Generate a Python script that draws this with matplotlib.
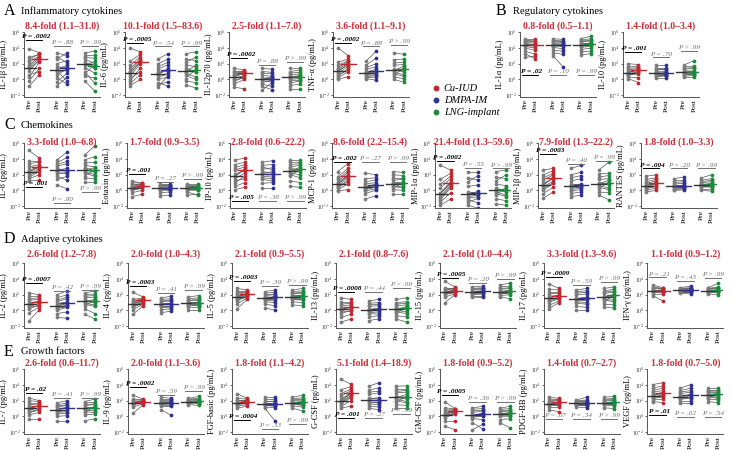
import numpy as np
import matplotlib
matplotlib.use("Agg")
import matplotlib.pyplot as plt
from matplotlib.lines import Line2D
from matplotlib.ticker import NullLocator

plt.rcParams["font.family"] = ["Liberation Serif", "DejaVu Serif"]
plt.rcParams["mathtext.fontset"] = "stix"

# y labels of the panels, in drawing order
panels = ["IL-1β", "IL-6", "IL-12p70", "TNF-α", "IL-1α", "IL-10",
          "IL-8", "Eotaxin", "IP-10", "MCP-1", "MIP-1α", "MIP-1β", "RANTES",
          "IL-2", "IL-4", "IL-5", "IL-13", "IL-15", "IL-17", "IFN-γ",
          "IL-7", "IL-9", "FGF-basic", "G-CSF", "GM-CSF", "PDGF-BB", "VEGF"]

folds = ["8.4-fold (1.1–31.0)", "10.1-fold (1.5–83.6)", "2.5-fold (1.1–7.0)", "3.6-fold (1.1–9.1)",
         "0.8-fold (0.5–1.1)", "1.4-fold (1.0–3.4)",
         "3.3-fold (1.0–6.8)", "1.7-fold (0.9–3.5)", "2.8-fold (0.6–22.2)", "8.6-fold (2.2–15.4)",
         "21.4-fold (1.3–59.6)", "7.9-fold (1.3–22.2)", "1.8-fold (1.0–3.3)",
         "2.6-fold (1.2–7.8)", "2.0-fold (1.0–4.3)", "2.1-fold (0.9–5.5)", "2.1-fold (0.8–7.6)",
         "2.1-fold (1.0–4.4)", "3.3-fold (1.3–9.6)", "1.1-fold (0.9–1.2)",
         "2.6-fold (0.6–11.7)", "2.0-fold (1.1–3.6)", "1.8-fold (1.1–4.2)", "5.1-fold (1.4–18.9)",
         "1.8-fold (0.9–5.2)", "1.4-fold (0.7–2.7)", "1.8-fold (0.7–5.0)"]

p_cu = [".0002", ".0005", ".0002", ".0002", ".02", ".001",
        ".001", ".001", ".005", ".002", ".0002", ".0003", ".004",
        ".0007", ".0003", ".0003", ".0008", ".0005", ".0009", ".21",
        ".02", ".0002", ".0004", ".001", ".0005", ".07", ".01"]
p_dmpa = [".88", ".54", ".88", ".88", ".10", ".70",
          ".80", ".27", ".38", ".27", ".55", ".40", ".20",
          ".42", ".41", ".39", ".44", ".20", ".59", ".43",
          ".41", ".59", ".33", ".27", ".36", ".34", ".02"]
p_lng = ["> .99", "> .99", "> .99", "> .99", ".99", "> .99",
         "> .99", "> .99", "> .99", "> .99", "> .99", ".99", "> .99",
         "> .99", "> .99", "> .99", "> .99", "> .99", "> .99", "> .99",
         "> .99", "> .99", "> .99", "> .99", "> .99", "> .99", ".54"]

# log10(pg/mL): "pre values | post values", one pair per woman
cu_data = [
    "1.6 0.3 3.9 2.2 -0.85 1.1 2.8 1.8 0.6 2.5 1.4 -0.2 | 2.7 2.2 3.4 3.0 0.6 2.5 3.2 2.9 1.0 3.3 2.4 1.4",
    "0.7 -0.2 4.0 1.4 -0.8 0.4 2.3 0.9 0.1 1.8 1.1 -0.5 | 2.3 1.5 3.5 2.6 0.0 2.0 3.2 2.2 1.0 2.9 2.5 0.6",
    "0.3 -0.3 1.4 0.7 -1.0 0.1 1.1 0.5 -0.6 0.9 0.4 -0.1 | 0.8 0.4 1.2 1.0 -1.2 0.5 1.1 0.7 0.0 1.0 0.9 0.2",
    "1.0 0.4 4.0 1.5 0.0 0.8 2.2 1.1 0.2 1.8 1.3 0.6 | 2.0 1.4 3.0 2.3 0.35 1.7 2.6 1.9 1.0 2.4 2.1 1.2",
    "4.5 3.6 5.2 4.8 2.8 4.2 5.0 4.6 3.3 4.9 4.4 4.0 | 4.3 3.2 5.2 4.6 3.0 4.0 4.9 4.4 2.6 4.8 4.5 3.7",
    "0.9 0.5 2.0 1.2 0.1 0.7 1.6 1.0 0.3 1.4 0.8 0.6 | 1.2 0.9 1.9 1.4 -0.4 1.0 1.7 1.1 0.2 1.5 1.3 0.7",
    "2.4 1.7 5.1 3.0 1.2 2.1 3.8 2.6 1.5 3.4 2.3 1.9 | 3.0 2.4 4.1 3.3 1.3 2.8 3.8 3.0 2.0 3.6 3.1 2.6",
    "0.4 0.0 1.2 0.7 -0.8 0.2 1.0 0.5 -0.3 0.8 0.3 0.1 | 0.6 0.3 0.9 0.8 -0.5 0.5 0.9 0.7 0.0 0.8 0.6 0.4",
    "1.9 1.0 3.9 2.6 0.1 1.5 3.3 2.1 0.5 2.9 1.7 1.2 | 2.6 1.8 4.1 3.0 0.4 2.2 3.6 2.5 1.0 3.3 2.8 1.5",
    "0.7 0.3 2.4 1.1 -0.1 0.5 1.7 0.8 0.1 1.4 0.9 0.4 | 1.9 1.3 3.4 2.3 0.1 1.6 2.8 1.8 0.8 2.5 2.0 1.1",
    "-0.5 -1.2 3.2 0.3 -1.9 -0.8 1.4 -0.3 -1.5 0.8 -0.4 -1.0 | 1.0 0.3 2.6 1.5 -1.1 0.7 2.2 1.1 -0.3 1.8 0.9 0.5",
    "0.7 0.0 2.6 1.3 -1.0 0.4 2.0 0.9 -0.4 1.6 0.6 0.2 | 1.6 0.9 2.8 2.0 -0.2 1.2 2.5 1.5 0.4 2.2 1.7 1.0",
    "0.55 0.2 1.8 0.9 -0.2 0.4 1.4 0.6 0.0 1.1 0.7 0.3 | 0.9 0.6 2.0 1.2 0.0 0.8 1.6 0.9 0.3 1.4 1.0 0.5",
    "0.8 0.2 2.2 1.3 -1.3 0.5 1.8 1.0 -0.3 1.5 0.9 0.4 | 1.1 0.7 2.0 1.4 0.1 0.9 1.8 1.05 0.4 1.6 1.2 0.6",
    "0.8 0.4 2.3 1.1 -0.5 0.6 1.4 0.9 0.1 1.2 0.85 0.5 | 1.3 1.0 1.7 1.4 0.6 1.2 1.6 1.3 0.8 1.5 1.35 1.1",
    "1.7 1.2 2.8 2.0 0.2 1.5 2.5 1.8 0.8 2.2 1.6 1.3 | 2.1 1.8 2.6 2.3 1.4 2.0 2.5 2.1 1.6 2.4 2.2 1.9",
    "0.2 -0.4 1.6 0.6 -1.5 0.0 1.1 0.3 -0.9 0.8 0.1 -0.2 | 0.4 0.0 1.4 0.7 -1.1 0.2 1.1 0.35 -0.5 0.9 0.5 -0.1",
    "2.3 2.0 3.7 2.6 1.0 2.2 2.9 2.4 1.7 2.7 2.35 2.1 | 2.5 2.3 3.0 2.7 2.0 2.4 2.9 2.5 2.1 2.8 2.6 2.35",
    "1.6 1.0 3.4 2.1 0.2 1.3 2.7 1.8 0.6 2.4 1.5 1.2 | 1.9 1.5 2.8 2.2 1.0 1.7 2.6 1.9 1.2 2.4 2.0 1.6",
    "2.55 2.3 3.25 2.8 1.9 2.45 3.0 2.6 2.1 2.9 2.5 2.4 | 2.5 2.3 2.9 2.7 1.2 2.4 2.8 2.5 2.1 2.75 2.6 2.35",
    "1.05 0.6 2.35 1.5 -0.3 0.8 2.0 1.2 0.2 1.7 1.0 0.5 | 1.3 0.9 2.0 1.6 -0.3 1.1 1.9 1.35 0.5 1.7 1.4 0.8",
    "1.75 1.5 2.7 2.0 0.4 1.6 2.2 1.8 1.2 2.1 1.7 1.55 | 1.9 1.75 2.2 2.0 1.5 1.85 2.15 1.9 1.6 2.05 1.95 1.8",
    "1.75 1.5 2.9 2.0 1.05 1.6 2.3 1.8 1.3 2.1 1.7 1.55 | 1.9 1.7 2.3 2.05 1.3 1.8 2.2 1.9 1.5 2.1 1.95 1.75",
    "2.0 1.6 4.75 2.6 1.05 1.8 3.4 2.2 1.3 2.9 1.9 1.7 | 2.9 2.4 4.1 3.3 1.3 2.7 3.8 3.0 2.0 3.5 3.1 2.6",
    "0.25 -0.2 1.85 0.6 -1.25 0.0 1.1 0.35 -0.6 0.8 0.2 0.1 | 0.6 0.4 1.0 0.8 -1.7 0.5 0.95 0.65 -0.6 0.9 0.7 0.3",
    "1.65 1.4 2.45 1.9 0.85 1.55 2.2 1.7 1.2 2.0 1.6 1.5 | 1.75 1.5 2.3 2.0 0.6 1.65 2.2 1.8 1.2 2.1 1.85 1.4",
    "2.7 2.3 4.05 3.1 1.9 2.5 3.6 2.8 2.1 3.3 2.6 2.4 | 2.9 2.5 4.3 3.3 1.75 2.7 3.9 3.0 2.2 3.6 3.1 2.6",
]
dmpa_data = [
    "1.3 0.2 3.4 2.0 -0.85 0.9 2.6 1.6 -0.3 2.9 1.1 0.5 | 1.8 -0.6 3.0 2.4 0.3 1.2 3.4 1.5 0.8 2.1 -0.2 1.4",
    "0.6 -0.4 2.6 1.3 -1.0 0.2 2.0 0.8 -0.7 1.6 0.9 0.0 | 1.4 -0.9 3.3 1.9 0.5 0.8 2.6 1.1 -0.3 2.2 1.2 0.3",
    "0.0 -0.6 1.4 0.5 -1.4 -0.2 1.0 0.2 -0.9 0.8 0.1 -0.4 | 0.2 -0.9 1.3 0.4 -0.4 -0.3 0.9 0.0 -1.3 0.7 0.3 -0.1",
    "0.85 0.3 2.3 1.3 0.1 0.6 1.8 1.0 0.2 1.5 0.9 0.5 | 1.1 0.5 3.6 1.6 -0.1 0.8 2.7 1.0 0.3 2.0 1.3 0.6",
    "4.5 3.7 5.2 4.8 3.0 4.3 5.0 4.6 3.4 4.9 4.4 4.1 | 4.4 3.6 5.1 4.7 1.6 4.2 4.9 4.5 3.2 4.8 4.3 3.9",
    "0.9 0.5 1.8 1.2 0.2 0.7 1.5 1.0 0.3 1.3 0.8 0.6 | 1.0 0.4 1.8 1.3 0.2 0.7 1.5 0.9 0.5 1.2 0.8 0.6",
    "2.6 1.8 3.9 3.1 0.7 2.3 3.5 2.8 1.4 3.3 2.5 2.1 | 2.8 1.3 4.9 3.4 0.2 2.1 4.2 2.5 1.8 3.7 2.6 2.3",
    "0.3 0.0 0.8 0.5 -0.7 0.2 0.7 0.4 -0.3 0.6 0.3 0.1 | 0.3 0.1 0.8 0.5 -0.6 0.2 0.6 0.4 -0.2 0.7 0.3 0.0",
    "2.2 1.4 3.6 2.7 0.3 1.8 3.2 2.4 0.9 3.0 2.1 1.6 | 2.4 1.2 3.8 2.9 0.3 1.7 3.3 2.2 1.0 2.6 2.0 1.5",
    "0.35 -0.1 2.2 0.8 -1.1 0.1 1.5 0.5 -0.4 1.1 0.4 0.2 | 0.7 0.2 2.0 1.0 -0.7 0.4 1.6 0.6 0.0 1.3 0.8 0.5",
    "-0.5 -1.2 2.4 0.5 -1.9 -0.8 1.6 -0.2 -1.5 1.1 -0.4 -1.0 | -0.1 -1.6 2.4 0.7 -2.3 -0.6 1.3 -0.4 -1.0 1.9 -0.3 -0.8",
    "0.6 -0.1 2.8 1.2 -0.8 0.3 2.0 0.8 -0.4 1.6 0.5 0.1 | 0.8 0.1 3.2 1.5 -0.6 0.4 2.3 0.7 -0.2 1.9 0.6 0.3",
    "0.55 0.3 1.5 0.8 0.0 0.4 1.2 0.6 0.1 1.0 0.5 0.35 | 0.6 0.3 1.7 0.9 0.05 0.4 1.3 0.55 0.2 1.1 0.7 0.4",
    "0.6 0.0 2.0 1.1 -0.9 0.3 1.6 0.8 -0.4 1.3 0.5 0.2 | 1.0 0.4 2.5 1.5 -1.0 0.7 2.0 1.1 -0.2 1.7 0.9 0.5",
    "0.8 0.4 1.6 1.1 -0.3 0.6 1.4 0.9 0.1 1.2 0.7 0.5 | 0.9 0.3 1.8 1.2 -0.1 0.6 1.5 0.8 0.2 1.3 0.85 0.5",
    "1.6 1.1 2.4 1.9 0.3 1.4 2.2 1.7 0.8 2.0 1.5 1.3 | 1.7 1.0 2.6 2.0 0.05 1.4 2.3 1.6 0.6 2.1 1.8 1.2",
    "0.1 -0.4 1.2 0.5 -1.3 -0.1 0.9 0.2 -0.8 0.7 0.0 -0.3 | 0.3 -0.5 1.4 0.6 -1.1 0.0 1.0 0.2 -0.7 0.8 0.1 -0.2",
    "2.3 2.0 3.0 2.6 1.7 2.2 2.8 2.4 1.9 2.7 2.35 2.1 | 2.4 2.1 3.1 2.7 1.7 2.3 2.9 2.45 1.9 2.8 2.5 2.2",
    "1.5 0.9 2.6 2.0 0.1 1.2 2.4 1.6 0.5 2.2 1.4 1.1 | 1.7 0.8 2.8 2.1 0.1 1.3 2.5 1.6 0.4 2.3 1.5 1.0",
    "2.55 2.4 2.9 2.7 2.2 2.5 2.8 2.6 2.3 2.75 2.55 2.45 | 2.6 2.4 3.1 2.75 2.1 2.5 2.9 2.55 2.3 2.8 2.65 2.45",
    "0.85 0.3 1.75 1.2 -0.55 0.6 1.5 1.0 0.0 1.3 0.8 0.5 | 1.1 0.4 2.0 1.4 -0.55 0.8 1.7 1.05 0.1 1.5 1.2 0.6",
    "1.75 1.5 2.45 2.0 0.85 1.6 2.2 1.8 1.3 2.1 1.7 1.55 | 1.8 1.5 2.3 2.0 0.15 1.65 2.2 1.75 1.3 2.1 1.7 1.6",
    "1.6 1.4 2.45 1.9 1.05 1.5 2.2 1.7 1.2 2.0 1.6 1.45 | 1.7 1.3 2.45 1.95 -0.55 1.5 2.2 1.6 1.1 2.0 1.65 1.4",
    "2.2 1.6 3.85 2.8 1.05 1.9 3.4 2.4 1.3 3.1 2.1 1.8 | 2.4 1.5 4.3 3.0 0.85 1.9 3.6 2.2 1.2 3.2 2.0 1.7",
    "0.15 -0.3 1.05 0.5 -1.7 0.0 0.9 0.3 -0.8 0.7 0.1 -0.1 | 0.35 -0.4 1.3 0.7 -1.0 0.1 1.0 0.3 -1.6 0.8 0.4 0.0",
    "1.65 1.5 2.1 1.85 1.2 1.6 2.0 1.7 1.4 1.9 1.65 1.55 | 1.7 1.5 2.45 1.9 1.1 1.6 2.1 1.65 1.35 2.0 1.75 1.55",
    "2.55 2.2 3.6 2.9 1.75 2.4 3.3 2.6 2.0 3.1 2.5 2.3 | 2.7 2.3 4.05 3.1 1.75 2.5 3.6 2.75 2.0 3.3 2.8 2.4",
]
lng_data = [
    "2.0 0.7 3.4 2.6 -0.2 1.5 3.0 2.2 1.0 2.8 1.8 0.4 | 1.4 1.9 3.6 2.0 -1.5 0.8 3.1 1.5 -0.5 2.7 2.3 0.2",
    "1.2 0.1 3.3 1.9 -0.7 0.8 2.6 1.4 -0.2 2.2 1.0 0.5 | 0.9 1.3 3.5 1.6 -1.1 0.3 2.4 1.0 -0.4 2.8 1.8 0.0",
    "0.2 -0.5 1.4 0.6 -1.2 0.0 1.0 0.4 -0.8 0.8 0.3 -0.2 | 0.4 -0.2 1.4 0.7 -1.2 0.1 1.2 0.3 -0.6 0.9 0.5 -0.1",
    "1.2 0.5 3.4 1.8 0.0 0.9 2.5 1.3 0.3 2.1 1.1 0.7 | 1.0 1.5 3.2 1.9 -0.35 0.6 2.6 1.2 0.1 2.2 1.7 0.4",
    "4.5 3.8 5.2 4.8 3.1 4.3 5.0 4.6 3.5 4.9 4.4 4.1 | 4.6 4.0 5.5 4.9 3.3 4.4 5.2 4.5 3.6 5.0 4.7 4.2",
    "1.0 0.6 1.8 1.3 0.3 0.8 1.6 1.1 0.4 1.4 0.9 0.7 | 1.1 0.7 2.4 1.4 0.3 0.8 1.7 1.0 0.5 1.5 0.9 0.6",
    "2.7 1.9 4.5 3.2 1.1 2.4 3.9 2.9 1.6 3.5 2.6 2.2 | 2.3 2.6 5.7 3.0 1.1 2.0 4.3 2.5 1.5 3.6 2.9 1.8",
    "0.35 0.0 0.8 0.5 -0.6 0.2 0.7 0.4 -0.2 0.6 0.3 0.1 | 0.4 0.1 0.8 0.5 -0.5 0.2 0.7 0.3 -0.6 0.6 0.35 0.0",
    "2.6 1.8 3.9 3.0 0.5 2.2 3.6 2.8 1.2 3.3 2.4 2.0 | 2.4 2.8 3.9 3.2 0.4 2.0 3.6 2.6 1.0 3.4 3.0 1.6",
    "0.85 0.3 2.4 1.3 -0.5 0.6 2.0 1.0 0.1 1.6 0.9 0.5 | 0.7 1.0 2.3 1.4 -0.5 0.4 1.9 0.8 0.0 1.6 1.1 0.3",
    "0.1 -0.6 2.4 0.8 -1.7 -0.2 1.7 0.3 -1.1 1.2 0.0 -0.4 | -0.2 0.4 2.6 0.6 -1.9 -0.6 1.5 -0.1 -1.3 2.0 0.2 -0.8",
    "0.9 0.2 2.6 1.4 -0.6 0.6 2.1 1.0 -0.2 1.7 0.8 0.4 | 0.7 1.1 3.6 1.5 -1.2 0.3 2.2 0.8 -0.3 1.9 1.3 0.1",
    "0.75 0.4 1.6 1.0 0.0 0.6 1.3 0.8 0.2 1.1 0.7 0.5 | 0.8 0.5 2.0 1.1 -0.1 0.6 1.5 0.75 0.2 1.3 0.9 0.4",
    "1.2 0.6 2.2 1.6 -0.5 0.9 2.0 1.3 0.2 1.8 1.1 0.8 | 1.0 1.3 2.5 1.7 -1.1 0.7 2.1 1.1 -0.4 1.9 1.4 0.5",
    "0.95 0.6 1.7 1.2 0.1 0.8 1.5 1.0 0.4 1.3 0.9 0.7 | 1.0 0.7 1.9 1.3 0.1 0.8 1.6 0.95 0.4 1.4 1.1 0.6",
    "1.8 1.4 2.6 2.1 0.7 1.6 2.4 1.9 1.1 2.2 1.7 1.5 | 1.9 1.3 2.8 2.2 0.6 1.6 2.5 1.8 1.0 2.3 2.0 1.5",
    "0.2 -0.3 1.4 0.6 -1.1 0.0 1.0 0.3 -0.7 0.8 0.1 -0.2 | 0.1 0.4 1.6 0.7 -1.5 -0.2 1.1 0.2 -0.8 0.9 0.5 -0.4",
    "2.4 2.1 3.25 2.7 1.7 2.3 3.0 2.5 1.9 2.8 2.4 2.2 | 2.5 2.3 3.5 2.8 1.5 2.4 3.1 2.5 2.0 2.9 2.6 2.2",
    "1.7 1.1 2.8 2.2 0.45 1.4 2.5 1.8 0.8 2.3 1.6 1.3 | 1.6 2.0 3.0 2.3 0.3 1.3 2.7 1.8 0.7 2.5 2.1 1.1",
    "2.5 2.35 2.9 2.7 2.1 2.45 2.8 2.55 2.25 2.75 2.5 2.4 | 2.55 2.4 3.45 2.8 2.0 2.5 3.0 2.6 2.3 2.9 2.65 2.45",
    "1.05 0.5 1.9 1.4 -0.55 0.8 1.7 1.1 0.2 1.5 1.0 0.6 | 1.0 1.3 2.2 1.5 -0.3 0.7 1.8 1.05 0.3 1.6 1.2 0.5",
    "1.9 1.75 2.3 2.05 1.5 1.85 2.2 1.95 1.65 2.1 1.9 1.8 | 1.9 1.8 2.55 2.1 1.4 1.85 2.3 1.95 1.6 2.2 2.0 1.75",
    "1.75 1.5 2.45 2.0 1.05 1.6 2.2 1.8 1.3 2.1 1.7 1.55 | 1.7 1.9 2.7 2.1 0.7 1.5 2.4 1.75 1.2 2.2 1.95 1.4",
    "2.45 1.8 3.85 3.0 1.05 2.2 3.5 2.6 1.5 3.2 2.4 2.0 | 2.2 2.6 3.9 3.1 1.05 1.9 3.5 2.35 1.4 3.3 2.8 1.7",
    "0.3 0.0 1.05 0.6 -0.8 0.2 0.9 0.4 -0.4 0.7 0.3 0.1 | 0.4 0.1 1.3 0.7 -1.5 0.25 1.0 0.35 -0.3 0.8 0.5 0.0",
    "1.75 1.55 2.45 2.0 1.1 1.65 2.2 1.8 1.4 2.1 1.7 1.6 | 1.8 1.6 2.55 2.05 1.0 1.7 2.3 1.75 1.35 2.15 1.9 1.5",
    "2.8 2.4 3.6 3.1 1.9 2.6 3.4 2.9 2.2 3.2 2.7 2.5 | 2.6 2.9 3.6 3.1 1.75 2.4 3.4 2.7 2.1 3.25 3.0 2.3",
]

# height (log10) of the P-value underline, per group
py_cu = [5.0, 4.7, 2.7, 4.7, 0.6, 3.5, 0.4, 2.1, -1.3, 3.6, 3.8, 4.6, 2.8,
         3.5, 3.1, 3.7, 2.4, 4.1, 4.3, 4.2, 3.0, 3.8, -0.5, -0.25, 2.75, -0.35, 0.2]
py_dmpa = [4.25, 4.2, 1.9, 4.2, 0.6, 2.8, -1.55, 1.1, -1.4, 3.6, 2.9, 3.4, 2.8,
           2.5, 2.2, 3.1, 2.4, 3.5, 3.2, 3.7, 2.3, 2.75, -1.55, -0.25, 1.8, -0.35, -0.05]
py_lng = [4.25, 4.2, 2.2, 4.4, 0.6, 3.6, -0.25, 1.4, -1.4, 3.6, 2.8, 3.8, 2.8,
          2.6, 2.6, 3.3, 2.85, 4.0, 3.6, 4.1, 2.3, 3.2, -0.95, 0.3, 1.9, -0.35, -0.05]

groups = ["Cu-IUD", "DMPA-IM", "LNG-implant"]
colors = ["#c1272d", "#2e3192", "#1b8a3a"]
fold_color = "#c8303a"
line_grey = "#555555"

W, H = 732, 450
AX_W, AX_H = 76, 65

# pixel layout: left spine x, top y, fold-label offset above top
panel_pos = [(24, 32), (125, 32), (229, 32), (333, 32), (520, 32), (623, 32)]
panel_pos += [(24 + i * 102.8, 143) for i in range(7)]
panel_pos += [(24 + i * 103.9, 263) for i in range(7)]
panel_pos += [(24 + i * 103.9, 369) for i in range(7)]
fold_off = [6] * 6 + [1] * 7 + [9] * 7 + [6] * 7

xpos = [(0.0, 1.0), (2.7, 3.7), (5.4, 6.4)]

fig = plt.figure(figsize=(W / 100, H / 100), dpi=100)


def parse(s):
    pre, post = s.split("|")
    return np.array(pre.split(), float), np.array(post.split(), float)


for i, name in enumerate(panels):
    x0, top = panel_pos[i]
    ax = fig.add_axes([x0 / W, 1 - (top + AX_H) / H, AX_W / W, AX_H / H])
    ax.set_yscale("log")
    ax.set_ylim(10 ** -2.25, 10 ** 6.05)
    ax.set_xlim(-0.5, 6.9)

    series = [cu_data[i], dmpa_data[i], lng_data[i]]
    pvals = [p_cu[i], p_dmpa[i], p_lng[i]]
    pys = [py_cu[i], py_dmpa[i], py_lng[i]]
    for g in range(3):
        pre, post = parse(series[g])
        pre, post = 10 ** pre, 10 ** post
        xa, xb = xpos[g]
        for a, b in zip(pre, post):
            ax.plot([xa, xb], [a, b], color=line_grey, lw=0.5, zorder=1)
        ax.plot([xa] * len(pre), pre, "o", ms=2.7, color="#7b7b7b", mew=0, zorder=2)
        ax.plot([xb] * len(post), post, "o", ms=2.7, color=colors[g], mew=0, zorder=2)
        ax.plot([xa - 0.7, xa + 0.7], [np.median(pre)] * 2, color="#333333", lw=1.0, zorder=3)
        ax.plot([xb - 0.7, xb + 0.7], [np.median(post)] * 2, color=colors[g], lw=1.0, zorder=3)

        # P-value with underline
        p = pvals[g]
        sig = g == 0 and not p.startswith(">") and float(p) < 0.05
        label = "P " + p if p.startswith(">") else "P = " + p
        tcol = "black" if sig else "#707070"
        xc = (xa + xb) / 2 + (0.15 if g == 0 else 0)
        ax.plot([xa - 0.3, xb + 0.3], [10 ** pys[g]] * 2, color=tcol, lw=0.7, zorder=3)
        ax.text(xc, 10 ** (pys[g] + 0.12), label, ha="center", va="bottom",
                fontsize=5.2, style="italic", weight="bold" if sig else "normal", color=tcol)

    ax.text(0.5, 1.0 + fold_off[i] / AX_H, folds[i], transform=ax.transAxes, ha="center",
            va="center", fontsize=7, weight="bold", color=fold_color)

    ax.set_yticks([1e-2, 1e0, 1e2, 1e4, 1e6])
    ax.yaxis.set_minor_locator(NullLocator())
    ax.tick_params(axis="y", labelsize=4.2, length=1.5, width=0.6, colors="#444444", pad=0.6)
    ax.set_xticks([x for pair in xpos for x in pair])
    ax.set_xticklabels(["Pre", "Post"] * 3, rotation=90, fontsize=5.4)
    ax.tick_params(axis="x", length=0, pad=1.5)
    ax.set_ylabel(f"{name} (pg/mL)", fontsize=6.0, labelpad=0.4)
    for s in ["top", "right"]:
        ax.spines[s].set_visible(False)
    for s in ["left", "bottom"]:
        ax.spines[s].set_color("#555555")
        ax.spines[s].set_linewidth(0.7)

# section titles
sections = [("A", "Inflammatory cytokines", 4, 11), ("B", "Regulatory cytokines", 496, 11),
            ("C", "Chemokines", 4, 125), ("D", "Adaptive cytokines", 4, 239),
            ("E", "Growth factors", 4, 352)]
for letter, title, x, y in sections:
    fig.text(x / W, 1 - y / H, letter, fontsize=11.5, va="center", ha="left")
    fig.text((x + 17) / W, 1 - y / H, title, fontsize=7.6, va="center", ha="left")

# legend
handles = [Line2D([], [], marker="o", ls="", color=c, ms=3.2) for c in colors]
fig.legend(handles, groups, loc="upper left", bbox_to_anchor=(426 / W, 1 - 80 / H),
           frameon=False, prop={"style": "italic", "size": 7.5},
           handletextpad=0.1, labelspacing=0.25, borderaxespad=0, handlelength=1.2)

fig.savefig("out.png", dpi=100, facecolor="white")
